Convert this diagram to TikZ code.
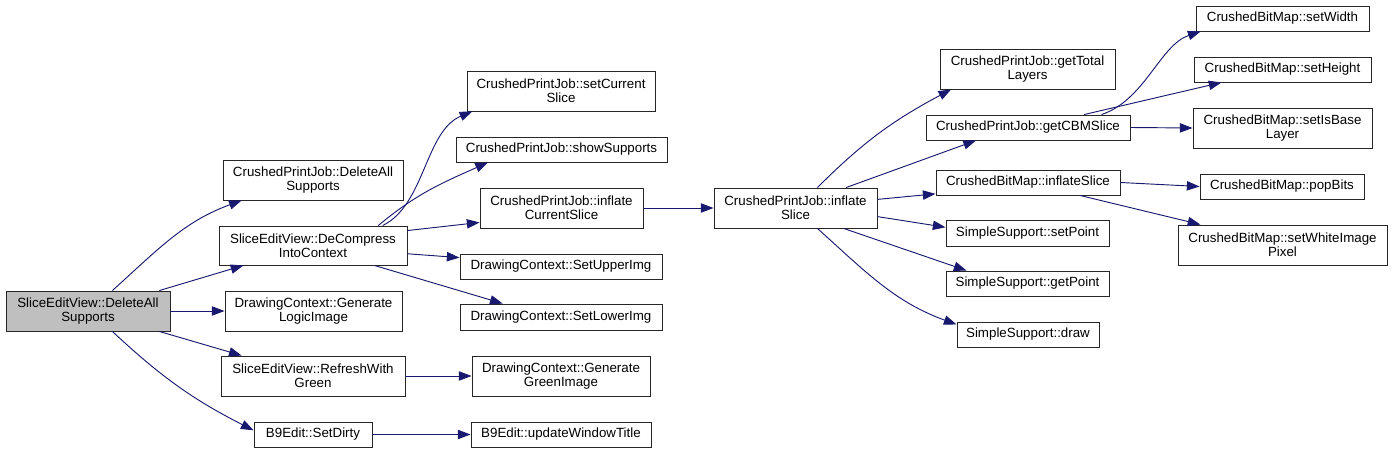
\documentclass[tikz,border=0pt]{standalone}
\usepackage{fontspec}
\setmainfont{Liberation Sans}
\usetikzlibrary{arrows.meta,positioning}
\definecolor{edgeblue}{HTML}{191970}
\definecolor{rootgray}{HTML}{BFBFBF}
\tikzset{
  fn/.style={
    draw=black!85,
    fill=white,
    line width=0.7pt,
    inner sep=0pt,
    align=center,
    font=\fontsize{10}{10.8}\selectfont
  },
  sz/.style 2 args={
    minimum width=#1*0.75pt,
    minimum height=#2*0.75pt
  },
  call/.style={
    draw=edgeblue,
    line width=0.7pt,
    -{Triangle[length=9.5pt,width=7pt]}
  },
}

\begin{document}
\begin{tikzpicture}[x=0.75pt,y=-0.75pt]
\useasboundingbox (0,0) rectangle (1392,453);
% first column
\node[fn, sz={164}{40}, fill=rootgray] (root) at (88,311) {SliceEditView::DeleteAll\\Supports};
% second column
\node[fn, sz={180}{40}] (cpjDel) at (313,180) {CrushedPrintJob::DeleteAll\\Supports};
\node[fn, sz={188}{39}] (decomp) at (313,245.5) {SliceEditView::DeCompress\\IntoContext};
\node[fn, sz={177}{40}] (genLogic) at (313.5,311) {DrawingContext::Generate\\LogicImage};
\node[fn, sz={184}{40}] (refresh) at (313,376) {SliceEditView::RefreshWith\\Green};
\node[fn, sz={118}{25}] (setDirty) at (313,434.5) {B9Edit::SetDirty};
% third column
\node[fn, sz={188}{40}] (setCur) at (561,91) {CrushedPrintJob::setCurrent\\Slice};
\node[fn, sz={211}{25}] (showSup) at (561.5,149.5) {CrushedPrintJob::showSupports};
\node[fn, sz={163}{40}] (inflCur) at (561.5,208) {CrushedPrintJob::inflate\\CurrentSlice};
\node[fn, sz={202}{25}] (setUpper) at (561,266.5) {DrawingContext::SetUpperImg};
\node[fn, sz={202}{26}] (setLower) at (561,317) {DrawingContext::SetLowerImg};
\node[fn, sz={178}{40}] (genGreen) at (561,376) {DrawingContext::Generate\\GreenImage};
\node[fn, sz={180}{25}] (updWin) at (561,434.5) {B9Edit::updateWindowTitle};
% fourth column
\node[fn, sz={163}{40}] (inflSlice) at (795.5,208) {CrushedPrintJob::inflate\\Slice};
% fifth column
\node[fn, sz={175}{40}] (getTotal) at (1027.5,69) {CrushedPrintJob::getTotal\\Layers};
\node[fn, sz={204}{25}] (getCBM) at (1028,127.5) {CrushedPrintJob::getCBMSlice};
\node[fn, sz={184}{25}] (cbmInfl) at (1028,182.5) {CrushedBitMap::inflateSlice};
\node[fn, sz={163}{26}] (setPoint) at (1027.5,233) {SimpleSupport::setPoint};
\node[fn, sz={163}{25}] (getPoint) at (1027.5,283.5) {SimpleSupport::getPoint};
\node[fn, sz={142}{25}] (drawSup) at (1028,334.5) {SimpleSupport::draw};
% sixth column
\node[fn, sz={173}{25}] (setWidth) at (1282.5,18.5) {CrushedBitMap::setWidth};
\node[fn, sz={177}{25}] (setHeight) at (1282.5,69.5) {CrushedBitMap::setHeight};
\node[fn, sz={179}{40}] (setIsBase) at (1282.5,128) {CrushedBitMap::setIsBase\\Layer};
\node[fn, sz={164}{25}] (popBits) at (1282,186.5) {CrushedBitMap::popBits};
\node[fn, sz={209}{40}] (setWhite) at (1282.5,245) {CrushedBitMap::setWhiteImage\\Pixel};

% calls
\draw[call] (root.40) to[out=42,in=200] (cpjDel.196);
\draw[call] (root.-40) to[out=-43,in=153] (setDirty.176);
\draw[call] (decomp.16) .. controls (425,205) and (425,131) .. (setCur.193);
\draw[call] (decomp.17) to[out=40,in=204] (showSup.190);
\draw[call] (inflSlice.43) to[out=45,in=208] (getTotal.195);
\draw[call] (inflSlice.-43) to[out=-42,in=160] (drawSup.172);
\draw[call] (getCBM.10) .. controls (1145,100) and (1160,45) .. (setWidth.189);
\foreach \a/\b in {root.16/decomp.196, root.east/genLogic.west, root.-16/refresh.164,
    decomp.9/inflCur.190, decomp.-5/setUpper.175, decomp.-18/setLower.167,
    refresh.east/genGreen.west, setDirty.east/updWin.west, inflCur.east/inflSlice.west,
    inflSlice.22/getCBM.194, inflSlice.6/cbmInfl.187, inflSlice.-6/setPoint.176,
    inflSlice.-23/getPoint.168, getCBM.13/setHeight.192, getCBM.east/setIsBase.west,
    cbmInfl.east/popBits.west, cbmInfl.-14/setWhite.166}
  \draw[call] (\a) -- (\b);
\end{tikzpicture}
\end{document}
